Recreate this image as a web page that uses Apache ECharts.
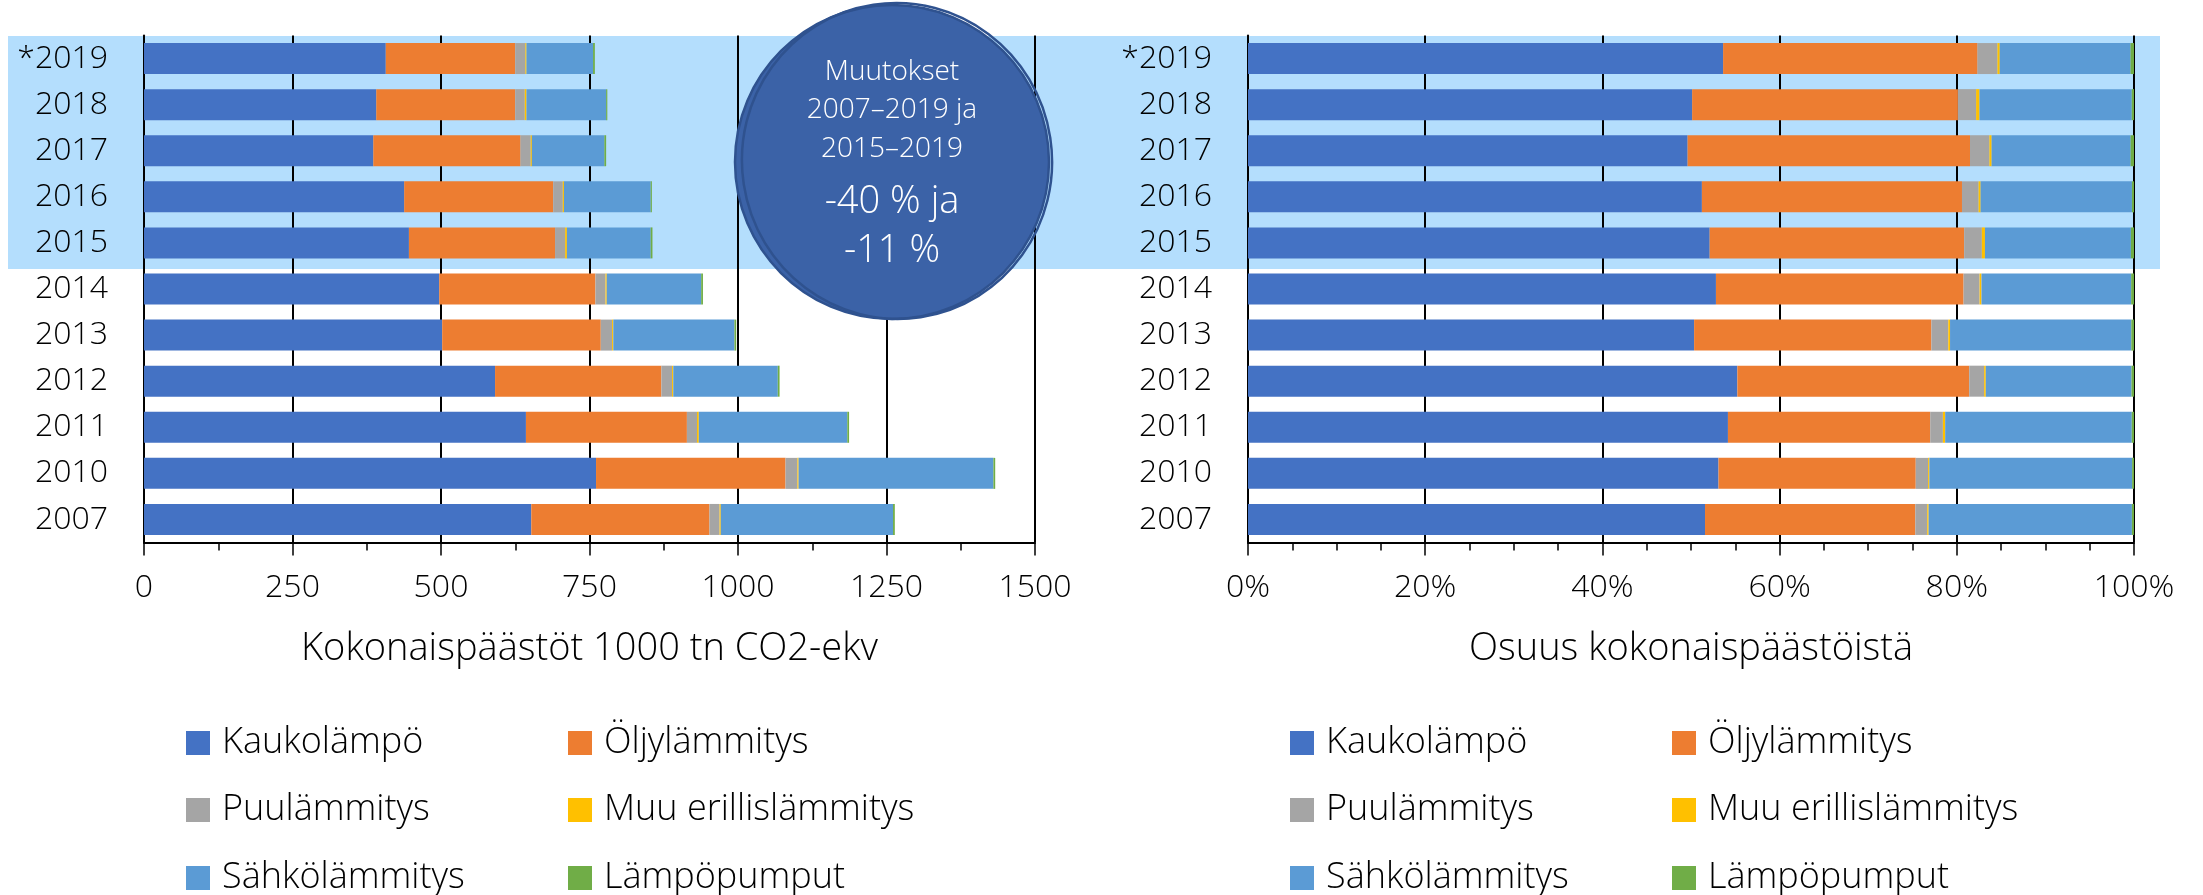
<!DOCTYPE html>
<html>
<head>
<meta charset="utf-8">
<script src="https://cdn.jsdelivr.net/npm/echarts@6/dist/echarts.min.js"></script>
<style>
  html, body { margin: 0; padding: 0; background: #fff; }
  #main { width: 2203px; height: 895px; }
</style>
</head>
<body>
<div id="main"></div>
<script>
var categories = ['*2019', '2018', '2017', '2016', '2015', '2014', '2013', '2012', '2011', '2010', '2007'];

// 1000 tn CO2-ekv
var kaukolampo = [407, 391, 386, 438, 446, 497, 502, 591, 643, 761, 652];
var oljylammitys = [218, 234, 248, 251, 246, 263, 267, 280, 271, 319, 300];
var puulammitys = [17, 16, 17, 16, 17, 17, 19, 18, 17, 20, 17];
var muuErillis = [2, 3, 2, 2, 3, 2, 2, 2, 3, 2, 2];
var sahkolammitys = [112, 134, 122, 146, 141, 159, 204, 176, 250, 328, 290];
var lampopumput = [3, 2, 3, 2, 3, 3, 3, 3, 3, 3, 3];

var seriesNames = ['Kaukolämpö', 'Öljylämmitys', 'Puulämmitys', 'Muu erillislämmitys', 'Sähkölämmitys', 'Lämpöpumput'];
var seriesData = [kaukolampo, oljylammitys, puulammitys, muuErillis, sahkolammitys, lampopumput];
var colors = ['#4472C4', '#ED7D31', '#A5A5A5', '#FFC000', '#5B9BD5', '#70AD47'];

var leftTicks = { min: 0, max: 1500, interval: 250 };
var rightTicks = { min: 0, max: 100, interval: 20 };

var noteLines = ['Muutokset', '2007–2019 ja', '2015–2019', '-40 % ja', '-11 %'];

var FONT = '"Open Sans"';

// share of total per year, for the right chart
var totals = categories.map(function (c, i) {
  var s = 0;
  seriesData.forEach(function (d) { s += d[i]; });
  return s;
});
var shares = seriesData.map(function (d) {
  return d.map(function (v, i) { return v / totals[i] * 100; });
});

var chartDom = document.getElementById('main');
var myChart = echarts.init(chartDom);

function xAxisCfg(gridIndex, ticks, name, split, suffix) {
  return {
    type: 'value',
    gridIndex: gridIndex,
    min: ticks.min,
    max: ticks.max,
    interval: ticks.interval,
    name: name,
    nameLocation: 'middle',
    nameGap: 88,
    nameTextStyle: { fontFamily: FONT, fontWeight: 300, fontSize: 38, color: '#000' },
    axisLine: { show: true, lineStyle: { color: '#000', width: 2 } },
    axisTick: { show: true, length: 13, lineStyle: { color: '#000', width: 1.5 } },
    minorTick: { show: true, splitNumber: split, length: 8, lineStyle: { color: '#000', width: 1.5 } },
    axisLabel: {
      fontFamily: FONT, fontWeight: 300, fontSize: 32, color: '#000', margin: 29,
      formatter: function (v) { return String(v) + suffix; }
    },
    splitLine: { show: true, lineStyle: { color: '#000', width: 2 } }
  };
}

function yAxisCfg(gridIndex) {
  return {
    type: 'category',
    gridIndex: gridIndex,
    data: categories,
    inverse: true,
    axisLine: { show: true, lineStyle: { color: '#000', width: 2 } },
    axisTick: { show: false },
    axisLabel: { fontFamily: FONT, fontWeight: 300, fontSize: 32, color: '#000', margin: 36 }
  };
}

var series = [];
seriesNames.forEach(function (n, k) {
  series.push({
    name: n, type: 'bar', stack: 'abs', xAxisIndex: 0, yAxisIndex: 0,
    barWidth: 31, itemStyle: { color: colors[k] }, data: seriesData[k]
  });
});
seriesNames.forEach(function (n, k) {
  series.push({
    name: n, type: 'bar', stack: 'share', xAxisIndex: 1, yAxisIndex: 1,
    barWidth: 31, itemStyle: { color: colors[k] }, data: shares[k]
  });
});

// legend: 3 rows x 2 columns under each chart
var legendRows = [
  ['Kaukolämpö', 'Öljylämmitys'],
  ['Puulämmitys', 'Muu erillislämmitys'],
  ['Sähkölämmitys', 'Lämpöpumput']
];
var rowCenters = [739, 806, 874];
var colLefts = [[181, 563], [1285, 1667]];
var legends = [];
colLefts.forEach(function (cols) {
  legendRows.forEach(function (row, r) {
    row.forEach(function (name, c) {
      legends.push({
        left: cols[c],
        top: rowCenters[r] - 19,
        itemWidth: 24,
        itemHeight: 24,
        icon: 'rect',
        selectedMode: false,
        data: [name],
        textStyle: { fontFamily: FONT, fontWeight: 300, fontSize: 36, lineHeight: 24, color: '#000', padding: [0, 0, 0, 7] }
      });
    });
  });
});

var noteY = [72, 110, 149, 202, 251];
var noteSize = [28, 28, 28, 38, 38];
var graphics = [
  { type: 'rect', z: -1, shape: { x: 8, y: 36, width: 2152, height: 233 }, style: { fill: '#B4DEFD' } },
  { type: 'ellipse', z: 10, shape: { cx: 892, cy: 162, rx: 157, ry: 157 },
    style: { fill: '#3B62A7', stroke: '#2F528F', lineWidth: 2.5 } },
  { type: 'ellipse', z: 10, shape: { cx: 897, cy: 161, rx: 155, ry: 158 }, rotation: 0.15, originX: 897, originY: 161,
    style: { fill: null, stroke: '#2F528F', lineWidth: 2.5 } }
];
noteLines.forEach(function (t, i) {
  graphics.push({
    type: 'text', z: 11, x: 892, y: noteY[i],
    style: { text: t, fill: '#fff', fontFamily: FONT, fontWeight: 300, fontSize: noteSize[i], align: 'center', verticalAlign: 'middle' }
  });
});

var option = {
  animation: false,
  color: colors,
  grid: [
    { left: 144, right: 1168, top: 35.5, bottom: 352.5 },
    { left: 1248, right: 69, top: 35.5, bottom: 352.5 }
  ],
  xAxis: [
    xAxisCfg(0, leftTicks, 'Kokonaispäästöt 1000 tn CO2-ekv', 2, ''),
    xAxisCfg(1, rightTicks, 'Osuus kokonaispäästöistä', 4, '%')
  ],
  yAxis: [yAxisCfg(0), yAxisCfg(1)],
  legend: legends,
  graphic: graphics,
  series: series
};

option && myChart.setOption(option);
</script>
</body>
</html>
